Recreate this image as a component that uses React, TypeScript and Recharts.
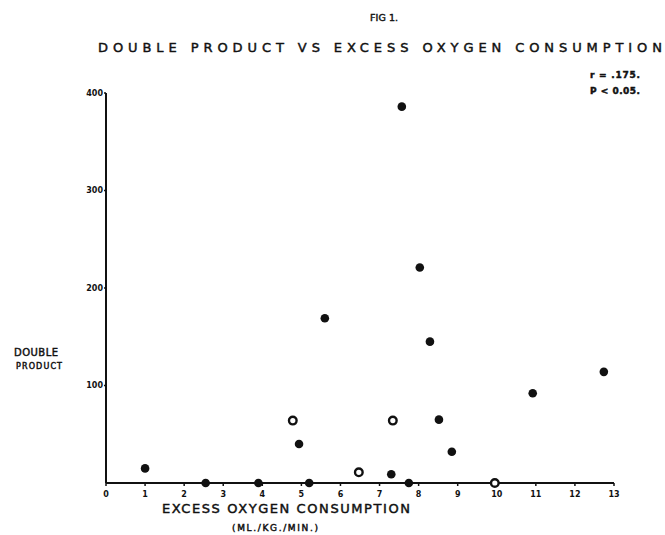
import React from "react";
import { ScatterChart, Scatter, XAxis, YAxis } from "recharts";

// Excess oxygen consumption (ml/kg/min) vs double product
const filledExcessO2 = [1.0, 2.55, 3.9, 4.94, 5.2, 5.6, 7.3, 7.57, 7.75, 8.03, 8.29, 8.52, 8.85, 10.92, 12.74];
const filledDoubleProduct = [15, 0, 0, 40, 0, 169, 9, 386, 0, 221, 145, 65, 32, 92, 114];
const openExcessO2 = [4.78, 6.47, 7.34, 9.95];
const openDoubleProduct = [64, 11, 64, 0];

const xTicks = [0, 1, 2, 3, 4, 5, 6, 7, 8, 9, 10, 11, 12, 13];
const yTicks = [100, 200, 300, 400];

const filledData = filledExcessO2.map((x, i) => ({ x, y: filledDoubleProduct[i] }));
const openData = openExcessO2.map((x, i) => ({ x, y: openDoubleProduct[i] }));

const FONT = "'DejaVu Sans', sans-serif";
const INK = "#111";

const FilledDot = (props: any) => (
  <circle cx={props.cx} cy={props.cy} r={4.3} fill={INK} />
);
const OpenDot = (props: any) => (
  <circle cx={props.cx} cy={props.cy} r={3.8} fill="#fff" stroke={INK} strokeWidth={2.4} />
);

export default function App() {
  return (
    <div style={{ position: "absolute", left: 0, top: 0, width: 665, height: 535, background: "#fff" }}>
      <ScatterChart width={665} height={535} margin={{ top: 93, right: 51, bottom: 32, left: 76 }}>
        <XAxis
          type="number"
          dataKey="x"
          domain={[0, 13]}
          ticks={xTicks}
          interval={0}
          height={20}
          axisLine={{ stroke: INK, strokeWidth: 2 }}
          tickLine={{ stroke: INK, strokeWidth: 1.5 }}
          tickSize={3}
          tickMargin={5}
          tick={{ fill: INK, fontSize: 8, fontWeight: "bold", fontFamily: FONT }}
        />
        <YAxis
          type="number"
          dataKey="y"
          domain={[0, 400]}
          ticks={yTicks}
          interval={0}
          width={30}
          axisLine={{ stroke: INK, strokeWidth: 2 }}
          tickLine={{ stroke: INK, strokeWidth: 1.5 }}
          tickSize={2}
          tickMargin={1}
          tick={{ fill: INK, fontSize: 8, fontWeight: "bold", fontFamily: FONT }}
        />
        <Scatter data={filledData} shape={FilledDot} isAnimationActive={false} />
        <Scatter data={openData} shape={OpenDot} isAnimationActive={false} />
      </ScatterChart>
      <svg
        width={665}
        height={535}
        style={{ position: "absolute", left: 0, top: 0, pointerEvents: "none" }}
      >
        <g fill={INK} stroke={INK} strokeWidth={0.45} fontFamily={FONT}>
          <text x={370} y={21} fontSize={9.5} textLength={28} lengthAdjust="spacing">FIG 1.</text>
          <text x={98} y={52} fontSize={13} textLength={564} lengthAdjust="spacing">
            DOUBLE PRODUCT  VS  EXCESS OXYGEN CONSUMPTION
          </text>
          <text x={590} y={78} fontSize={9} fontWeight="bold" textLength={50} lengthAdjust="spacing">r = .175.</text>
          <text x={590} y={94} fontSize={9} fontWeight="bold" textLength={50} lengthAdjust="spacing">P &lt; 0.05.</text>
          <text x={14} y={356} fontSize={10} textLength={44} lengthAdjust="spacing">DOUBLE</text>
          <text x={16} y={369} fontSize={8} textLength={46} lengthAdjust="spacing">PRODUCT</text>
          <text x={162} y={513} fontSize={13} textLength={248} lengthAdjust="spacing">
            EXCESS OXYGEN CONSUMPTION
          </text>
          <text x={232} y={531} fontSize={9} textLength={86} lengthAdjust="spacing">(ML./KG./MIN.)</text>
        </g>
      </svg>
    </div>
  );
}
